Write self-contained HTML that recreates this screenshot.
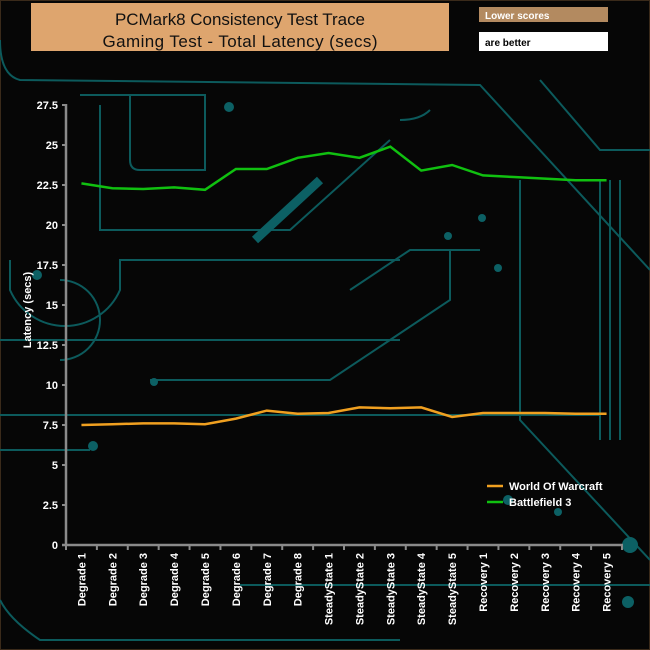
<!DOCTYPE html><html><head><style>body{margin:0;background:#050505}svg{display:block}</style></head><body>
<svg width="650" height="650" xmlns="http://www.w3.org/2000/svg" font-family="Liberation Sans, sans-serif">
<rect width="650" height="650" fill="#060606"/>
<rect x="0.5" y="0.5" width="649" height="649" fill="none" stroke="#3a2a1a"/>
<g fill="none" stroke="#0c5a5c" stroke-width="2">
<path d="M0 40 Q0 75 20 80 L480 85 L650 270"/>
<path d="M80 95 H205 V170 H140 Q130 170 130 160 V95"/>
<path d="M100 105 V230 H290 L390 140"/>
<path d="M540 80 L600 150 H650"/>
<path d="M0 340 H400"/>
<path d="M0 415 H600"/>
<path d="M240 585 H650"/>
<path d="M0 450 H90"/>
<path d="M0 600 Q10 620 40 640 H400"/>
<path d="M60 280 A40 40 0 0 1 60 360"/>
<path d="M10 260 V290 A60 60 0 0 0 120 290 V260 H400"/>
<path d="M150 380 L330 380 L450 300 V250"/>
<path d="M430 110 Q420 120 400 120"/>
<path d="M600 180 V440 M610 180 V440 M620 180 V440"/>
<path d="M520 180 V420 L650 560"/>
<path d="M350 290 L410 250 H480"/>
</g>
<g fill="#0c6064"><circle cx="229" cy="107" r="5"/><circle cx="93" cy="446" r="5"/><circle cx="630" cy="545" r="8"/><circle cx="628" cy="602" r="6"/><circle cx="508" cy="500" r="5"/><circle cx="558" cy="512" r="4"/><circle cx="37" cy="275" r="5"/><circle cx="482" cy="218" r="4"/><circle cx="448" cy="236" r="4"/><circle cx="498" cy="268" r="4"/><circle cx="154" cy="382" r="4"/></g>
<path d="M255 240 L320 180" stroke="#0c6064" stroke-width="9"/>
<rect x="31" y="3" width="418" height="48" fill="#dea56e"/>
<text x="240" y="25" font-size="17" text-anchor="middle" fill="#111" textLength="250">PCMark8 Consistency Test Trace</text>
<text x="240" y="47" font-size="17" text-anchor="middle" fill="#111" textLength="275">Gaming Test -  Total Latency (secs)</text>
<rect x="479" y="7" width="129" height="15" fill="#b38a60"/>
<text x="485" y="19" font-size="10" font-weight="bold" fill="#fff">Lower scores</text>
<rect x="479" y="32" width="129" height="19" fill="#fff"/>
<text x="485" y="46" font-size="10" font-weight="bold" fill="#000">are better</text>
<g stroke="#8a8a8a" stroke-width="2.5"><line x1="66" y1="104" x2="66" y2="546"/><line x1="62" y1="545" x2="623" y2="545"/></g>
<g id="yt" font-size="11" font-weight="bold" fill="#fff" text-anchor="end"></g>
<g id="xt" font-size="11" font-weight="bold" fill="#fff"></g>
<text transform="translate(31,310) rotate(-90)" font-size="11" font-weight="bold" fill="#fff" text-anchor="middle">Latency (secs)</text>
<polyline id="o" fill="none" stroke="#f0a020" stroke-width="2.5"/>
<polyline id="g" fill="none" stroke="#10c010" stroke-width="2.5"/>
<line x1="487" y1="486" x2="503" y2="486" stroke="#f0a020" stroke-width="2.5"/>
<line x1="487" y1="502" x2="503" y2="502" stroke="#10c010" stroke-width="2.5"/>
<text x="509" y="490" font-size="11" font-weight="bold" fill="#fff">World Of Warcraft</text>
<text x="509" y="506" font-size="11" font-weight="bold" fill="#fff">Battlefield 3</text>
<script>
var ns="http://www.w3.org/2000/svg",yt=document.getElementById('yt'),xt=document.getElementById('xt');
function Y(v){return 545-v*16}
var s=document.querySelector('svg');
for(var i=0;i<=11;i++){var v=i*2.5,t=document.createElementNS(ns,'text');t.setAttribute('x',58);t.setAttribute('y',Y(v)+4);t.textContent=(v%1?v.toFixed(1):v);yt.appendChild(t);
var l=document.createElementNS(ns,'line');l.setAttribute('x1',62);l.setAttribute('x2',66);l.setAttribute('y1',Y(v));l.setAttribute('y2',Y(v));l.setAttribute('stroke','#8a8a8a');l.setAttribute('stroke-width',2);s.appendChild(l);}
var names=[];for(i=1;i<=8;i++)names.push('Degrade '+i);for(i=1;i<=5;i++)names.push('SteadyState '+i);for(i=1;i<=5;i++)names.push('Recovery '+i);
var dx=(622-66)/18;
for(i=0;i<=18;i++){var l=document.createElementNS(ns,'line'),x=66+i*dx;l.setAttribute('x1',x);l.setAttribute('x2',x);l.setAttribute('y1',545);l.setAttribute('y2',550);l.setAttribute('stroke','#8a8a8a');l.setAttribute('stroke-width',2);s.appendChild(l);}
names.forEach(function(n,i){var x=66+(i+0.5)*dx+4,t=document.createElementNS(ns,'text');t.setAttribute('transform','translate('+x+',553) rotate(-90)');t.setAttribute('text-anchor','end');t.textContent=n;xt.appendChild(t);});
var G=[22.6,22.3,22.25,22.35,22.2,23.5,23.5,24.2,24.5,24.2,24.9,23.4,23.75,23.1,23.0,22.9,22.8,22.8],O=[7.5,7.55,7.6,7.6,7.55,7.9,8.4,8.2,8.25,8.6,8.55,8.6,8.0,8.25,8.25,8.25,8.2,8.2];
function pts(a){return a.map(function(v,i){return (66+(i+0.5)*dx)+','+Y(v)}).join(' ')}
document.getElementById('g').setAttribute('points',pts(G));document.getElementById('o').setAttribute('points',pts(O));
</script>
</svg></body></html>
